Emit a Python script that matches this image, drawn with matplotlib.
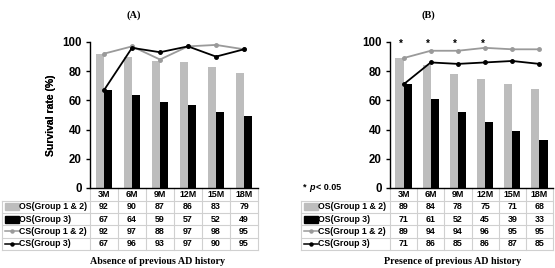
import matplotlib
matplotlib.use("Agg")
import matplotlib.pyplot as plt
from matplotlib.patches import Rectangle
from matplotlib.lines import Line2D
import matplotlib.transforms as mtransforms
import numpy as np

categories = ["3M", "6M", "9M", "12M", "15M", "18M"]
series_names = ["OS(Group 1 & 2)", "OS(Group 3)", "CS(Group 1 & 2)", "CS(Group 3)"]

a_os12 = [92, 90, 87, 86, 83, 79]
a_os3 = [67, 64, 59, 57, 52, 49]
a_cs12 = [92, 97, 88, 97, 98, 95]
a_cs3 = [67, 96, 93, 97, 90, 95]

b_os12 = [89, 84, 78, 75, 71, 68]
b_os3 = [71, 61, 52, 45, 39, 33]
b_cs12 = [89, 94, 94, 96, 95, 95]
b_cs3 = [71, 86, 85, 86, 87, 85]
b_sig = [True, True, True, True, False, False]

W, H = 555, 268
fig = plt.figure(figsize=(W / 100, H / 100), dpi=100)
plt.rcParams['font.family'] = ['Liberation Sans', 'DejaVu Sans']

GRAY_BAR = "#bdbdbd"
GRAY_LINE = "#9a9a9a"
BORDER = "#d0d0d0"


def px_axes(left, right, top, bottom):
    return fig.add_axes([left / W, (H - bottom) / H, (right - left) / W, (bottom - top) / H])


def draw_panel(ax, os12, os3, cs12, cs3, label_left_px, ax_left_px, ax_right_px,
               title, title_x, caption, caption_x, sig=None):
    x = np.arange(len(categories))
    bw = 0.3
    ax.bar(x - bw / 2, os12, width=bw, color=GRAY_BAR, zorder=1)
    ax.bar(x + bw / 2, os3, width=bw, color="black", zorder=1)
    ax.plot(x, cs12, color=GRAY_LINE, lw=1.3, marker="o", ms=2.5, zorder=3)
    ax.plot(x, cs3, color="black", lw=1.3, marker="o", ms=2.5, zorder=4)
    if sig is not None:
        for i, s in enumerate(sig):
            if s:
                ax.text(i - 0.1, 99, "*", ha="center", va="center", fontsize=7, fontweight="bold", clip_on=False)
    ax.set_xlim(-0.5, len(categories) - 0.5)
    ax.set_ylim(0, 100)
    ax.set_yticks([0, 20, 40, 60, 80, 100])
    ax.set_xticks([])
    for sp in ["top", "right"]:
        ax.spines[sp].set_visible(False)
    ax.spines["left"].set_linewidth(1.0)
    ax.spines["bottom"].set_linewidth(1.0)
    ax.tick_params(axis="y", length=3, width=1, pad=3, labelsize=8.3)
    for t in ax.get_yticklabels():
        t.set_fontweight("bold")
    ax.set_ylabel("Survival rate (%)", fontsize=7.5, fontweight="bold")
    ax.yaxis.set_label_coords((56 - ax_left_px) / (ax_right_px - ax_left_px), 0.5)

    # table
    ax_h = 146.0
    def yf(py):
        return (188 - py) / ax_h
    trans = mtransforms.blended_transform_factory(ax.transData, ax.transAxes)
    width_px = ax_right_px - ax_left_px
    lab_x0 = (label_left_px - ax_left_px) / width_px
    row_edges = [188, 200.5, 212.8, 225.2, 237.5, 249.5]
    for i, c in enumerate(categories):
        ax.text(i, yf((row_edges[0] + row_edges[1]) / 2), c, transform=trans, ha="center", va="center",
                fontsize=6.4, fontweight="bold", clip_on=False)
    rows = [os12, os3, cs12, cs3]
    for r, vals in enumerate(rows):
        yc = yf((row_edges[r + 1] + row_edges[r + 2]) / 2)
        for i, v in enumerate(vals):
            ax.text(i, yc, str(v), transform=trans, ha="center", va="center",
                    fontsize=6.4, fontweight="bold", clip_on=False)
        ax.text(lab_x0 + 15 / width_px, yc, series_names[r], transform=ax.transAxes, ha="left", va="center",
                fontsize=6.3, fontweight="bold", clip_on=False)
        kx0 = lab_x0 + 1 / width_px
        kx1 = lab_x0 + 15 / width_px
        if r < 2:
            ax.add_patch(Rectangle((kx0, yc - 3.5 / ax_h), kx1 - kx0, 7 / ax_h, transform=ax.transAxes,
                                   color=GRAY_BAR if r == 0 else "black", clip_on=False))
        else:
            col = GRAY_LINE if r == 2 else "black"
            ax.add_line(Line2D([kx0, kx1], [yc, yc], transform=ax.transAxes, color=col, lw=1.1, clip_on=False))
            ax.add_line(Line2D([(kx0 + kx1) / 2], [yc], transform=ax.transAxes, color=col, marker="o",
                               ms=2.2, clip_on=False))
    for k, py in enumerate(row_edges):
        if k == 0:
            continue
        ax.add_line(Line2D([lab_x0 - 2 / width_px, 1], [yf(py), yf(py)], transform=ax.transAxes,
                           color=BORDER, lw=0.8, clip_on=False))
    for i in range(len(categories) + 1):
        ax.add_line(Line2D([i - 0.5, i - 0.5], [yf(row_edges[0]), yf(row_edges[-1])], transform=trans,
                           color=BORDER, lw=0.8, clip_on=False))
    ax.add_line(Line2D([lab_x0 - 2 / width_px] * 2, [yf(row_edges[1]), yf(row_edges[-1])], transform=ax.transAxes,
                       color=BORDER, lw=0.8, clip_on=False))

    fig.text(title_x / W, 1 - 15 / H, title, ha="center", va="center",
             fontsize=7.5, fontweight="bold", family="Liberation Serif")
    fig.text(caption_x / W, 1 - 262 / H, caption, ha="center", va="center",
             fontsize=7.2, fontweight="bold", family="Liberation Serif")


axA = px_axes(90, 258, 42, 188)
draw_panel(axA, a_os12, a_os3, a_cs12, a_cs3, 4, 90, 258, "(A)", 134, "Absence of previous AD history", 157)
axB = px_axes(390, 553, 42, 188)
draw_panel(axB, b_os12, b_os3, b_cs12, b_cs3, 303, 390, 553, "(B)", 428, "Presence of previous AD history", 453,
           sig=b_sig)
fig.text(303 / W, 1 - 188 / H, "* ", ha="left", va="center", fontsize=6.5, fontweight="bold")
fig.text(309 / W, 1 - 188 / H, "p", ha="left", va="center", fontsize=6.5, fontweight="bold", style="italic")
fig.text(316 / W, 1 - 188 / H, "< 0.05", ha="left", va="center", fontsize=6.5, fontweight="bold")

fig.savefig("out.png", dpi=100)
